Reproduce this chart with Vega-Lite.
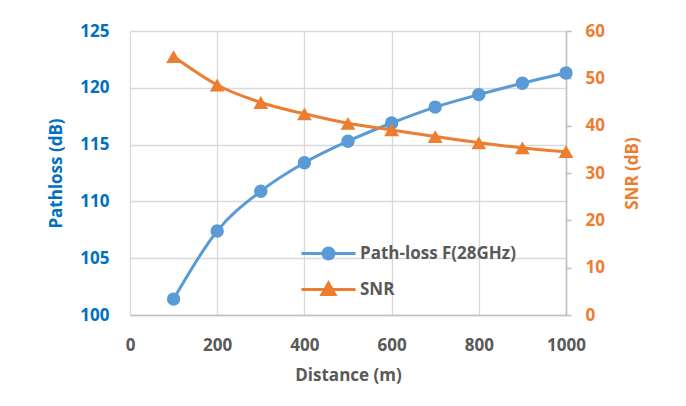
{
  "$schema": "https://vega.github.io/schema/vega-lite/v6.json",
  "width": 436,
  "height": 284,
  "autosize": {"type": "none"},
  "padding": {"left": 130, "top": 31, "right": 120, "bottom": 91},
  "background": "white",
  "config": {
    "font": "Open Sans",
    "view": {"stroke": null},
    "axis": {
      "labelFont": "Open Sans",
      "labelFontSize": 17,
      "labelFontWeight": "bold",
      "titleFont": "Open Sans",
      "titleFontSize": 17,
      "titleFontWeight": "bold",
      "gridColor": "#D9D9D9",
      "gridWidth": 1.3,
      "domainColor": "#BFBFBF",
      "domainWidth": 1.5,
      "tickColor": "#BFBFBF"
    }
  },
  "data": {
    "values": [
      {"distance": 100, "pathloss": 101.4, "snr": 54.6},
      {"distance": 200, "pathloss": 107.4, "snr": 48.6},
      {"distance": 300, "pathloss": 110.9, "snr": 44.9},
      {"distance": 400, "pathloss": 113.4, "snr": 42.5},
      {"distance": 500, "pathloss": 115.3, "snr": 40.5},
      {"distance": 600, "pathloss": 116.9, "snr": 39.1},
      {"distance": 700, "pathloss": 118.3, "snr": 37.7},
      {"distance": 800, "pathloss": 119.4, "snr": 36.4},
      {"distance": 900, "pathloss": 120.4, "snr": 35.3},
      {"distance": 1000, "pathloss": 121.3, "snr": 34.5}
    ]
  },
  "encoding": {
    "x": {
      "field": "distance",
      "type": "quantitative",
      "title": "Distance (m)",
      "scale": {"domain": [0, 1000], "nice": false},
      "axis": {
        "values": [0, 200, 400, 600, 800, 1000],
        "format": "d",
        "labelFlush": false,
        "ticks": false,
        "labelPadding": 22,
        "labelColor": "#595959",
        "titleColor": "#595959",
        "titlePadding": 14
      }
    }
  },
  "layer": [
    {
      "encoding": {
        "y": {
          "field": "pathloss",
          "type": "quantitative",
          "title": "Pathloss (dB)",
          "scale": {"domain": [100, 125], "nice": false, "zero": false},
          "axis": {
            "orient": "left",
            "values": [100, 105, 110, 115, 120, 125],
            "domain": false,
            "ticks": false,
            "labelPadding": 21,
            "labelColor": "#0070C0",
            "titleColor": "#0070C0",
            "titlePadding": 14
          }
        },
        "color": {
          "datum": "Path-loss F(28GHz)",
          "type": "nominal",
          "scale": {
            "domain": ["Path-loss F(28GHz)", "SNR"],
            "range": ["#5B9BD5", "#ED7D31"]
          },
          "legend": {
            "title": null,
            "orient": "none",
            "legendX": 190,
            "legendY": 214,
            "padding": 0,
            "symbolSize": 196,
            "symbolStrokeWidth": 3,
            "labelFont": "Open Sans",
            "labelFontSize": 17,
            "labelFontWeight": "bold",
            "labelColor": "#595959",
            "labelOffset": 23,
            "rowPadding": 10,
            "encode": {
              "symbols": {
                "update": {
                  "shape": {"signal": "datum.value === 'SNR' ? 'M-3.86,0H3.86M0,-0.93L0.93,0.71L-0.93,0.71Z' : 'M-3.86,0H3.86M-0.8,0A0.8,0.8 0 1,0 0.8,0A0.8,0.8 0 1,0 -0.8,0Z'"},
                  "fill": {"signal": "datum.value === 'SNR' ? '#ED7D31' : '#5B9BD5'"},
                  "stroke": {"signal": "datum.value === 'SNR' ? '#ED7D31' : '#5B9BD5'"},
                  "strokeWidth": {"value": 3},
                  "opacity": {"value": 1}
                }
              }
            }
          }
        }
      },
      "layer": [
        {"mark": {"type": "line", "interpolate": "monotone", "strokeWidth": 3}},
        {"mark": {"type": "point", "shape": "circle", "filled": true, "opacity": 1, "size": 180}}
      ]
    },
    {
      "encoding": {
        "y": {
          "field": "snr",
          "type": "quantitative",
          "title": "SNR (dB)",
          "scale": {"domain": [0, 60], "nice": false},
          "axis": {
            "orient": "right",
            "values": [0, 10, 20, 30, 40, 50, 60],
            "grid": false,
            "domain": true,
            "ticks": true,
            "tickSize": 5,
            "tickWidth": 1.5,
            "labelPadding": 14,
            "labelColor": "#ED7D31",
            "titleColor": "#ED7D31",
            "titleAngle": 270,
            "titleX": 66,
            "titleY": 142,
            "titleAlign": "center",
            "titleBaseline": "middle"
          }
        },
        "color": {"datum": "SNR", "type": "nominal"}
      },
      "layer": [
        {"mark": {"type": "line", "interpolate": "monotone", "strokeWidth": 3}},
        {"mark": {"type": "point", "shape": "triangle-up", "filled": true, "opacity": 1, "size": 220}}
      ]
    }
  ],
  "resolve": {"scale": {"y": "independent"}}
}
